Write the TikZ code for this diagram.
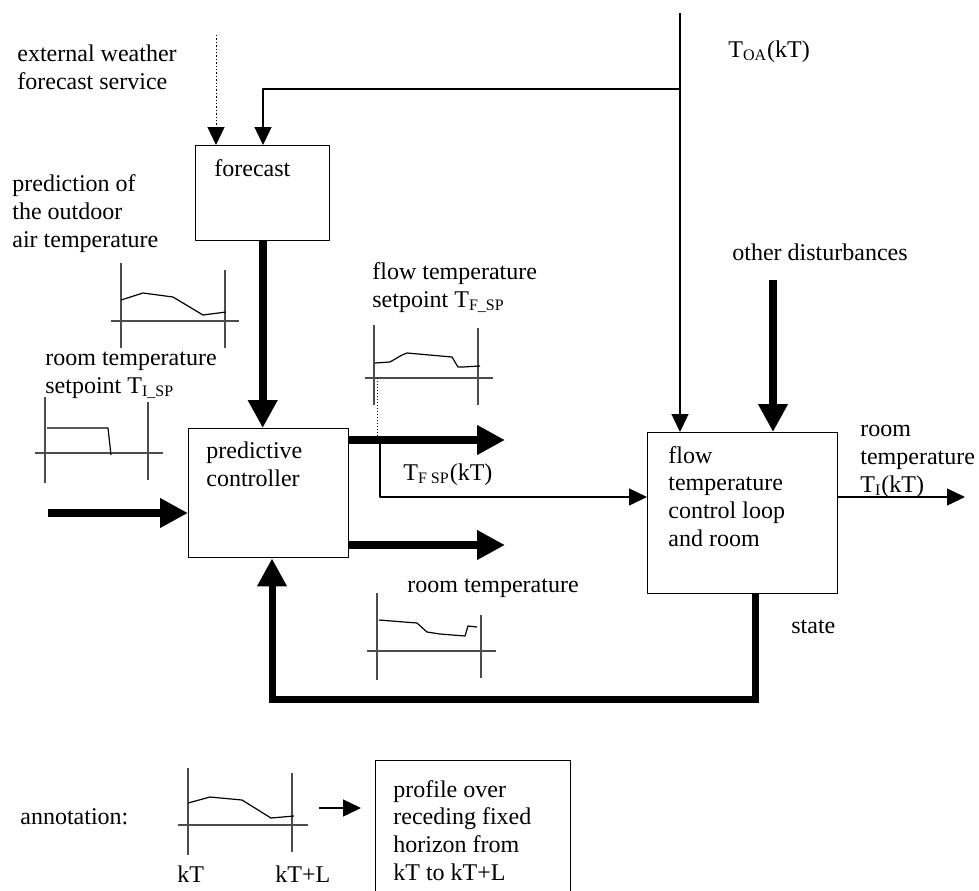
\documentclass[tikz,border=0pt]{standalone}
\usepackage{fontspec}
\setmainfont{Liberation Serif}
\usetikzlibrary{arrows.meta,calc,positioning}
\tikzset{blk/.style={draw,line width=0.7pt,inner sep=0pt,anchor=north west},
  txt/.style={align=left,anchor=base west,inner sep=0pt},
  thinar/.style={line width=0.7pt,-{Triangle[length=9pt,width=8.5pt]}},
  fatar/.style={line width=4pt,-{Triangle[length=14pt,width=14pt]}},
  axis/.style={gray!60!black,line width=0.6pt},
  prof/.style={line width=0.6pt}}

\begin{document}
\begin{tikzpicture}[x=0.5pt,y=-0.5pt,line join=round,font=\fontsize{12}{13.8}\selectfont]
\clip (0,0) rectangle (979,890);
% --- blocks (text placed at baseline of last line)
\node[blk,minimum width=67pt,minimum height=47.5pt] (fc) at (195,145) {};
\node[blk,minimum width=80pt,minimum height=64.5pt] (pc) at (188,428) {};
\node[blk,minimum width=95pt,minimum height=80.5pt] (fl) at (647,432) {};
\node[blk,minimum width=97.5pt,minimum height=80pt] (pf) at (375,760) {};
\node[txt] (fct) at (214,176) {forecast};
\node[txt] (pct) at (206,486) {predictive\\controller};
\node[txt] (flt) at (668,546) {flow\\temperature\\control loop\\and room};
\node[txt] (pft) at (393,880) {profile over\\receding fixed\\horizon from\\kT to kT+L};
% --- labels
\node[txt] (ews) at (17,89) {external weather\\forecast service};
\node[txt] (pred) at (12,247) {prediction of\\the outdoor\\air temperature};
\node[txt] (rsp) at (45,393) {room temperature\\setpoint T\textsubscript{I\_SP}};
\node[txt] (fsp) at (372,307) {flow temperature\\setpoint T\textsubscript{F\_SP}};
\node[txt] (tfk) at (403,480) {T\textsubscript{F SP}(kT)};
\node[txt] (toa) at (728,57) {T\textsubscript{OA}(kT)};
\node[txt] (od) at (732,260) {other disturbances};
\node[txt] (rti) at (860,492) {room\\temperature\\T\textsubscript{I}(kT)};
\node[txt] (st) at (791,633) {state};
\node[txt] (rt) at (407,592) {room temperature};
\node[txt] (ann) at (20,824) {annotation:};
\node[txt] (kt) at (177,882) {kT};
\node[txt] (ktl) at (275,882) {kT+L};
% --- signal lines
\coordinate (wx) at (216,35);
\draw[thinar,densely dotted,line width=0.5pt] (wx) -- (wx |- fc.north);
\coordinate (toain) at (680,13);
\draw[thinar] (toain) -- (toain |- fl.north);
\coordinate (br) at (680,89);
\draw[thinar] (br) -| ($(fc.north west)+(68,0)$);
\draw[fatar] (fc.south) -- (fc.south |- pc.north);
\coordinate (rin) at (48,513);
\draw[fatar] (rin) -- (rin -| pc.west);
\coordinate (o1) at (505,440);
\draw[fatar] (o1 -| pc.east) -- (o1);
\coordinate (o2) at (505,545);
\draw[fatar] (o2 -| pc.east) -- (o2);
\coordinate (tf) at (380,440);
\coordinate (fin) at (647,497);
\draw[thinar] (tf) |- (fin);
\coordinate (out) at (965,497);
\draw[thinar] (fin -| fl.east) -- (out);
\coordinate (dist) at (773,280);
\draw[fatar] (dist) -- (dist |- fl.north);
\draw[fatar,line width=3.5pt,line join=miter] ($(fl.south west)+(108,0)$) -- ++(0,105) -| ($(pc.south west)+(84,0)$);
% --- profile sketches
\draw[axis] (121,263) -- (121,348) (225,270) -- (225,348) (111,321) -- (239,321);
\draw[prof] (121,300) -- (143,293) -- (173,297) -- (203,315) -- (226,312);
\draw[axis] (45,397) -- (45,483) (148,402) -- (148,480) (35,453) -- (163,453);
\draw[prof] (47,428) -- (108,428) -- (111,455);
\draw[axis] (374,325) -- (374,405) (478,328) -- (478,405) (365,378) -- (493,378);
\draw[prof] (375,363) -- (390,362) -- (402,355) -- (407,353) -- (452,357) -- (458,367) -- (463,367) -- (480,366);
\draw[densely dotted,line width=0.5pt] (377,378) -- (377,440);
\draw[axis] (377,593) -- (377,680) (481,615) -- (481,678) (367,651) -- (496,651);
\draw[prof] (379,620) -- (417,623) -- (427,632) -- (440,634) -- (465,636) -- (468,626) -- (477,627);
\draw[axis] (188,768) -- (188,855) (292,773) -- (292,852) (178,825) -- (308,825);
\draw[prof] (188,803) -- (210,797) -- (242,800) -- (271,818) -- (294,816);
\coordinate (an) at (319,808);
\draw[thinar] (an) -- ++(42,0);
\end{tikzpicture}
\end{document}
